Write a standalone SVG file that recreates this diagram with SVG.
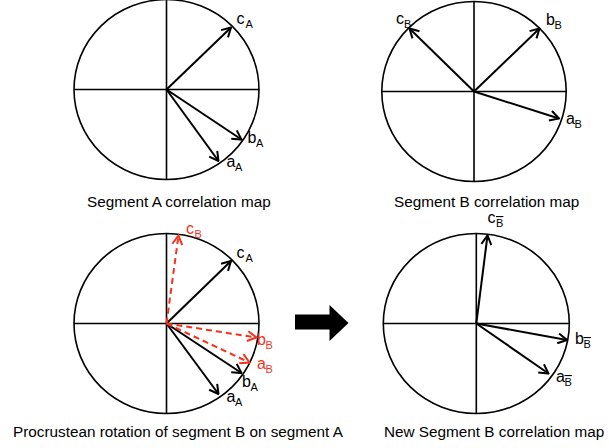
<svg xmlns="http://www.w3.org/2000/svg" width="609" height="448" viewBox="0 0 609 448">
<style>
.circ{fill:none;stroke:#000;stroke-width:1.6}
.axis{stroke:#000;stroke-width:1.6}
.vec{stroke:#000;stroke-width:2;fill:none}
.rvec{stroke:#f3331d;stroke-width:2;fill:none;stroke-dasharray:6 4}
text{font-family:"Liberation Sans",Arial,sans-serif;fill:#000}
.cap{font-size:15.3px}
.lab{font-size:16px}
.sub{font-size:11px}
.red{fill:#f3331d}
.ol{text-decoration:overline}
</style>
<defs>
<marker id="ah" markerWidth="12" markerHeight="12" viewBox="-11 -6 12 12" refX="0" refY="0" orient="auto" markerUnits="userSpaceOnUse">
<path d="M-9,-5 L0,0 L-9,5" fill="none" stroke="#000" stroke-width="2"/>
</marker>
<marker id="ahr" markerWidth="12" markerHeight="12" viewBox="-11 -6 12 12" refX="0" refY="0" orient="auto" markerUnits="userSpaceOnUse">
<path d="M-9,-5 L0,0 L-9,5" fill="none" stroke="#f3331d" stroke-width="2"/>
</marker>
</defs>

<g id="mapA">
<ellipse class="circ" cx="166.5" cy="89.5" rx="92.5" ry="90"/>
<line class="axis" x1="74" y1="89.5" x2="259" y2="89.5"/>
<line class="axis" x1="166.5" y1="-0.5" x2="166.5" y2="179.5"/>
<text class="lab" x="236.5" y="24">c<tspan class="sub" x="245.5" y="28">A</tspan></text>
<text class="lab" x="247.5" y="143">b<tspan class="sub" x="256" y="147">A</tspan></text>
<text class="lab" x="226.5" y="167">a<tspan class="sub" x="235" y="171">A</tspan></text>
<text class="cap" x="87" y="207">Segment A correlation map</text>
</g>

<g id="mapB">
<ellipse class="circ" cx="474" cy="91.5" rx="92.2" ry="90"/>
<line class="axis" x1="381.8" y1="91.5" x2="566.2" y2="91.5"/>
<line class="axis" x1="474" y1="1.5" x2="474" y2="181.5"/>
<text class="lab" x="396" y="24">c<tspan class="sub" x="404" y="28">B</tspan></text>
<text class="lab" x="546" y="25">b<tspan class="sub" x="554.5" y="29">B</tspan></text>
<text class="lab" x="566" y="124">a<tspan class="sub" x="574.5" y="128">B</tspan></text>
<text class="cap" x="394" y="207">Segment B correlation map</text>
</g>

<g id="mapRot">
<ellipse class="circ" cx="166.5" cy="323.5" rx="92.5" ry="90"/>
<line class="axis" x1="74" y1="323.5" x2="259" y2="323.5"/>
<line class="axis" x1="166.5" y1="233.5" x2="166.5" y2="413.5"/>
<text class="lab" x="236.5" y="258">c<tspan class="sub" x="245.5" y="262">A</tspan></text>
<text class="lab" x="242" y="387">b<tspan class="sub" x="250.5" y="391">A</tspan></text>
<text class="lab" x="226.5" y="402">a<tspan class="sub" x="235" y="406">A</tspan></text>
<text class="lab red" x="186" y="234">c<tspan class="sub red" x="194.5" y="238">B</tspan></text>
<text class="lab red" x="257" y="345">b<tspan class="sub red" x="265.5" y="349">B</tspan></text>
<text class="lab red" x="257" y="369">a<tspan class="sub red" x="265.5" y="373">B</tspan></text>
<text class="cap" x="13" y="437">Procrustean rotation of segment B on segment A</text>
</g>

<g id="mapNew">
<ellipse class="circ" cx="476.3" cy="323.5" rx="93" ry="90"/>
<line class="axis" x1="383.3" y1="323.5" x2="569.3" y2="323.5"/>
<line class="axis" x1="476.3" y1="233.5" x2="476.3" y2="413.5"/>
<text class="lab" x="487.5" y="223">c<tspan class="sub ol" x="496" y="227">B</tspan></text>
<text class="lab" x="575" y="344">b<tspan class="sub ol" x="583.5" y="348">B</tspan></text>
<text class="lab" x="556" y="382">a<tspan class="sub ol" x="564.5" y="386">B</tspan></text>
<text class="cap" x="384" y="437">New Segment B correlation map</text>
</g>

<g id="bigArrow">
<path d="M295,314.5 L329.5,314.5 L329.5,305 L348.5,323 L329.5,341 L329.5,329.5 L295,329.5 Z" fill="#000"/>
</g>

<g id="connectors">
<line class="vec" x1="166.5" y1="89.5" x2="231" y2="27.5" marker-end="url(#ah)"/>
<line class="vec" x1="166.5" y1="89.5" x2="241.5" y2="139.5" marker-end="url(#ah)"/>
<line class="vec" x1="166.5" y1="89.5" x2="218.5" y2="161" marker-end="url(#ah)"/>

<line class="vec" x1="474" y1="91.5" x2="409.5" y2="28.5" marker-end="url(#ah)"/>
<line class="vec" x1="474" y1="91.5" x2="539.5" y2="28.5" marker-end="url(#ah)"/>
<line class="vec" x1="474" y1="91.5" x2="559" y2="118.5" marker-end="url(#ah)"/>

<line class="vec" x1="166.5" y1="323.5" x2="231" y2="261" marker-end="url(#ah)"/>
<line class="vec" x1="166.5" y1="323.5" x2="241.5" y2="373" marker-end="url(#ah)"/>
<line class="vec" x1="166.5" y1="323.5" x2="218.5" y2="394" marker-end="url(#ah)"/>
<line class="rvec" x1="166.5" y1="323.5" x2="178.5" y2="235.5" marker-end="url(#ahr)"/>
<line class="rvec" x1="166.5" y1="323.5" x2="256.5" y2="337.5" marker-end="url(#ahr)"/>
<line class="rvec" x1="166.5" y1="323.5" x2="249.5" y2="362.5" marker-end="url(#ahr)"/>

<line class="vec" x1="476.3" y1="323.5" x2="487.5" y2="235.5" marker-end="url(#ah)"/>
<line class="vec" x1="476.3" y1="323.5" x2="567" y2="340" marker-end="url(#ah)"/>
<line class="vec" x1="476.3" y1="323.5" x2="548.5" y2="373.5" marker-end="url(#ah)"/>
</g>
</svg>
